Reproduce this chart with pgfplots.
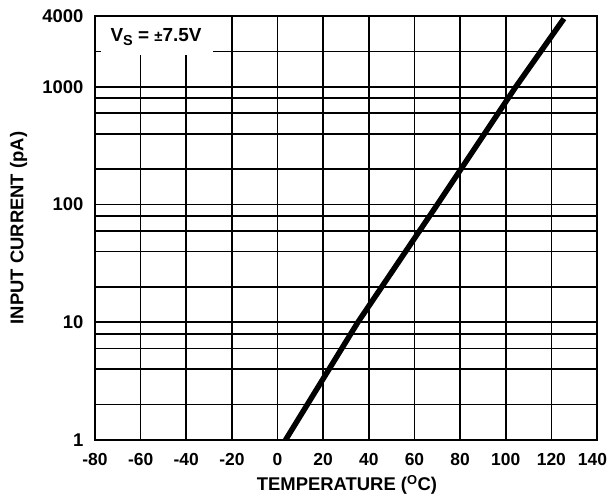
\documentclass[border=0pt]{standalone}
\usepackage{fontspec}
\setmainfont{Liberation Sans}
\usepackage{pgfplots}
\pgfplotsset{compat=1.18}
\begin{document}
\begin{tikzpicture}
\useasboundingbox (-95bp,-54bp) rectangle (513bp,440bp);
\begin{axis}[
  at={(0,0)}, anchor=south west,
  scale only axis, width=502bp, height=424bp,
  ymode=log,
  xmin=-80, xmax=140, ymin=1, ymax=4000,
  xtick={-80,-60,-40,-20,0,20,40,60,80,100,120,140},
  xticklabels={-80,-60,-40,-20,0,20,40,60,80,100,120,{\hspace*{-9bp}140}},
  ytick={1,10,100,1000,4000},
  yticklabels={1,10,100,1000,4000},
  minor ytick={2,4,6,8,20,40,60,80,200,400,600,800,2000},
  grid=both,
  major grid style={black, line width=1.7bp},
  minor grid style={black, line width=1.7bp},
  axis line style={black, line width=1.7bp},
  major tick length=0pt, minor tick length=0pt,
  tick style={draw=none},
  xticklabel style={font=\fontsize{17.5}{20}\selectfont\bfseries, yshift=-10bp},
  yticklabel style={font=\fontsize{18.5}{20}\selectfont\bfseries, xshift=-8bp},
  xlabel={TEMPERATURE (\textsuperscript{O}C)},
  ylabel={INPUT CURRENT (pA)},
  label style={font=\fontsize{18.5}{20}\selectfont\bfseries},
  xlabel style={at={(axis description cs:0.502,-0.106)}, anchor=center},
  ylabel style={at={(axis description cs:-0.152,0.5)}, anchor=center},
]
\addplot[black, line width=5.5bp, no marks] coordinates {
  (3.5,1) (35.2,10) (70,100) (104.4,1000) (125.5,3800)
};
\end{axis}
\fill[white] (6bp,385bp) rectangle (118bp,423bp);
\node[font=\fontsize{19}{20}\selectfont\bfseries, anchor=center] at (61bp,403bp)
  {V\raisebox{-0.35ex}{\fontsize{14.5}{15}\selectfont S} = \raisebox{0.05ex}{\fontsize{15}{15}\selectfont ±}7.5V};
\end{tikzpicture}
\end{document}
